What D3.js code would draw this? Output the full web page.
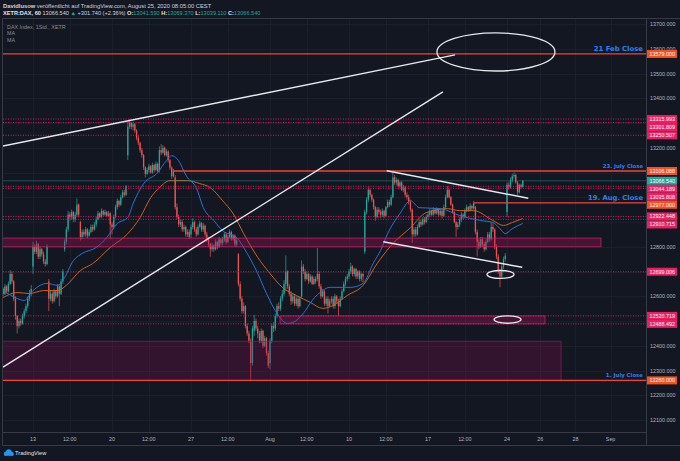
<!DOCTYPE html>
<html><head><meta charset="utf-8">
<script src="https://cdn.jsdelivr.net/npm/d3@7/dist/d3.min.js"></script>
<style>
html,body{margin:0;padding:0;background:#131722;overflow:hidden;}
svg{display:block;}
</style></head><body>
<svg id="c" width="680" height="461"></svg>
<script>
// ---------------- DATA ----------------
// hourly bars, 9 per session; bar index 0 = 13 Jul 09:00, first bar = 9 Jul (index -18)
const firstBar = -18;
const opens = [
12620,12630,12610,12640,12620,12650,12690,12660,12590, // Jul 9
12520,12480,12500,12490,12520,12540,12560,12590,12610, // Jul 10
12720,12800,12780,12810,12760,12790,12770,12740,12730, // Jul 13
12660,12590,12610,12580,12620,12600,12640,12610,12660, // Jul 14
12790,12820,12870,12930,12920,12940,12910,12930,12970, // Jul 15
12900,12840,12860,12850,12870,12845,12860,12880,12870, // Jul 16
12890,12910,12935,12920,12945,12930,12940,12925,12935, // Jul 17
12890,12880,12920,12960,12985,12970,13000,13020,13010, // Jul 20
13170,13285,13300,13285,13295,13270,13240,13220,13190, // Jul 21
13170,13120,13095,13110,13125,13100,13130,13110,13135, // Jul 22
13110,13190,13180,13200,13170,13185,13150,13120,13085, // Jul 23
13080,12960,12920,12890,12900,12870,12880,12850,12860, // Jul 24
12850,12880,12900,12870,12850,12880,12895,12870,12885, // Jul 27
12850,12830,12810,12790,12805,12790,12820,12800,12830, // Jul 28
12815,12830,12850,12820,12840,12860,12830,12845,12810, // Jul 29
12770,12650,12590,12540,12560,12480,12450,12420,12330, // Jul 30
12460,12500,12470,12450,12420,12460,12400,12430,12370, // Jul 31
12330,12420,12480,12470,12520,12560,12550,12590,12610, // Aug 3
12650,12700,12640,12610,12580,12600,12570,12590,12560, // Aug 4
12600,12720,12700,12670,12690,12660,12680,12650,12670, // Aug 5
12670,12690,12640,12600,12620,12570,12590,12560,12580, // Aug 6
12590,12560,12600,12580,12560,12590,12620,12650,12670, // Aug 7
12680,12700,12720,12690,12710,12680,12700,12670,12690, // Aug 10
12780,12940,12990,13030,13010,12990,12960,12920,12950, // Aug 11
12940,12930,12945,12925,12960,12980,12970,13000,13080, // Aug 12
13060,13070,13045,13060,13030,13040,13010,13000,12980, // Aug 13
12950,12850,12870,12850,12880,12900,12890,12910,12900, // Aug 14
12920,12930,12945,12930,12950,12935,12950,12930,12945, // Aug 17
12925,12960,13000,13030,13000,12970,12940,12900,12880, // Aug 18
12890,12910,12930,12920,12945,12960,12950,12965,12955, // Aug 19
12960,12860,12820,12800,12830,12810,12790,12820,12850, // Aug 20
12830,12880,12870,12800,12760,12700,12680,12720,12750, // Aug 21
12940,13050,13040,13070,13085,13090,13060,13020,13050, // Aug 24
13041.59                                               // Aug 25
];
const highs = [
12640,12635,12650,12645,12660,12705,12700,12665,12600,
12525,12510,12510,12530,12550,12570,12600,12625,12645,
12820,12810,12825,12815,12800,12795,12780,12750,12810,
12670,12625,12620,12630,12625,12650,12645,12670,12710,
12830,12880,12945,12940,12950,12945,12940,12995,12975,
12905,12870,12870,12880,12875,12870,12890,12890,12900,
12920,12945,12940,12955,12950,12950,12945,12945,12940,
12900,12930,12970,12995,12990,13010,13030,13030,13050,
13305,13315,13305,13305,13300,13275,13250,13225,13200,
13175,13125,13120,13135,13130,13140,13135,13145,13140,
13205,13215,13210,13205,13195,13190,13155,13125,13115,
13090,12975,12930,12910,12910,12890,12885,12870,12870,
12890,12915,12905,12880,12890,12905,12900,12895,12890,
12860,12840,12815,12815,12810,12830,12825,12840,12835,
12840,12860,12855,12850,12870,12865,12850,12850,12835,
12775,12660,12600,12575,12565,12490,12460,12430,12480,
12525,12510,12480,12460,12470,12465,12440,12435,12380,
12430,12490,12495,12530,12570,12575,12600,12625,12665,
12765,12705,12650,12620,12610,12610,12600,12600,12600,
12745,12730,12710,12700,12695,12690,12685,12680,12680,
12795,12700,12650,12630,12625,12600,12600,12590,12600,
12600,12610,12605,12590,12600,12630,12660,12680,12690,
12710,12735,12725,12715,12715,12705,12705,12695,12695,
12950,13000,13040,13035,13015,12995,12965,12960,12960,
12950,12955,12950,12965,12990,12990,13010,13100,13090,
13080,13075,13065,13065,13050,13045,13020,13010,12990,
12955,12880,12880,12890,12910,12910,12920,12920,12930,
12940,12955,12950,12960,12955,12960,12955,12955,12950,
12970,13010,13045,13035,13005,12975,12945,12905,12900,
12920,12940,12935,12955,12970,12965,12975,12970,12985,
12965,12870,12830,12840,12840,12820,12830,12860,12860,
12900,12895,12875,12810,12770,12710,12730,12760,12775,
13060,13060,13080,13095,13100,13095,13065,13055,13055,
13069.37
];
const lows = [
12605,12600,12605,12610,12615,12645,12650,12580,12505,
12450,12470,12480,12485,12510,12530,12550,12580,12600,
12690,12770,12770,12750,12750,12760,12730,12720,12725,
12540,12580,12570,12575,12590,12595,12560,12605,12650,
12780,12810,12860,12905,12910,12900,12900,12920,12920,
12825,12830,12840,12840,12835,12840,12855,12860,12865,
12880,12905,12915,12915,12925,12925,12920,12920,12830,
12850,12870,12915,12950,12960,12965,12995,13000,13005,
13150,13275,13275,13270,13260,13230,13210,13180,13160,
13110,13080,13090,13100,13095,13095,13100,13105,13100,
13100,13170,13175,13165,13165,13140,13110,13075,13080,
12950,12910,12880,12880,12860,12860,12840,12840,12830,
12835,12870,12860,12840,12845,12875,12860,12860,12840,
12820,12800,12760,12780,12780,12785,12790,12795,12805,
12805,12820,12810,12815,12835,12825,12825,12800,12800,
12640,12580,12530,12530,12470,12440,12410,12262,12320,
12440,12460,12430,12410,12410,12390,12395,12360,12310,
12305,12410,12455,12460,12510,12540,12540,12580,12600,
12620,12630,12600,12565,12570,12560,12560,12550,12555,
12590,12690,12660,12665,12650,12655,12645,12645,12650,
12660,12630,12590,12595,12560,12560,12530,12555,12570,
12550,12550,12570,12520,12555,12585,12615,12640,12660,
12670,12690,12680,12680,12670,12670,12660,12660,12655,
12770,12930,12980,13000,12980,12950,12905,12915,12930,
12915,12920,12915,12920,12955,12960,12965,12995,13050,
13050,13040,13035,13025,13020,13000,12990,12970,12940,
12815,12840,12840,12845,12875,12880,12885,12890,12895,
12910,12920,12925,12925,12930,12930,12925,12925,12915,
12920,12955,12995,12995,12965,12935,12895,12840,12870,
12880,12900,12910,12915,12940,12940,12945,12945,12950,
12850,12760,12790,12795,12800,12780,12785,12815,12820,
12825,12860,12790,12750,12690,12636,12675,12710,12740,
12920,13030,13035,13060,13075,13055,13010,13015,13035,
13039.11
];
const closes = [
12630,12610,12640,12620,12650,12690,12660,12590,12520,
12480,12500,12490,12520,12540,12560,12590,12610,12630,
12800,12780,12810,12760,12790,12770,12740,12730,12800,
12590,12610,12580,12620,12600,12640,12610,12660,12700,
12820,12870,12930,12920,12940,12910,12930,12970,12930,
12840,12860,12850,12870,12845,12860,12880,12870,12890,
12910,12935,12920,12945,12930,12940,12925,12935,12890,
12880,12920,12960,12985,12970,13000,13020,13010,13045,
13285,13300,13285,13295,13270,13240,13220,13190,13170,
13120,13095,13110,13125,13100,13130,13110,13135,13105,
13190,13180,13200,13170,13185,13150,13120,13085,13106,
12960,12920,12890,12900,12870,12880,12850,12860,12840,
12880,12900,12870,12850,12880,12895,12870,12885,12850,
12830,12810,12790,12805,12790,12820,12800,12830,12815,
12830,12850,12820,12840,12860,12830,12845,12810,12825,
12650,12590,12540,12560,12480,12450,12420,12330,12470,
12500,12470,12450,12420,12460,12400,12430,12370,12320,
12420,12480,12470,12520,12560,12550,12590,12610,12650,
12700,12640,12610,12580,12600,12570,12590,12560,12590,
12720,12700,12670,12690,12660,12680,12650,12670,12660,
12690,12640,12600,12620,12570,12590,12560,12580,12590,
12560,12600,12580,12560,12590,12620,12650,12670,12680,
12700,12720,12690,12710,12680,12700,12670,12690,12680,
12940,12990,13030,13010,12990,12960,12920,12950,12940,
12930,12945,12925,12960,12980,12970,13000,13080,13060,
13070,13045,13060,13030,13040,13010,13000,12980,12950,
12850,12870,12850,12880,12900,12890,12910,12900,12920,
12930,12945,12930,12950,12935,12950,12930,12945,12925,
12960,13000,13030,13000,12970,12940,12900,12880,12890,
12910,12930,12920,12945,12960,12950,12965,12955,12977,
12860,12820,12800,12830,12810,12790,12820,12850,12830,
12880,12870,12800,12760,12700,12680,12720,12750,12764,
13050,13040,13070,13085,13090,13060,13020,13050,13041.59,
13066.54
];

// moving averages (bar index, value)
const maFastBars = [-17,-9,-5,0,8,14,17,23,28,36,42,48,54,57,63,71,76,79,82,88,93,97,103,108,116,122,128,133,139,145,148,154,159,165,169,181,188,194,198,202,209,215,220,232,243,255,262,266,269,273,279];
const maFastVals = [12623,12591,12583,12623,12652,12644,12664,12744,12773,12797,12837,12894,12918,12974,13055,13099,13148,13168,13156,13079,13039,12958,12906,12865,12837,12773,12692,12611,12531,12490,12494,12531,12583,12623,12636,12636,12652,12736,12785,12853,12934,12986,12958,12954,12926,12906,12898,12873,12853,12873,12894];
const maSlowBars = [-17,-9,-2,6,14,19,27,34,44,54,61,67,72,78,88,95,101,108,114,120,128,135,142,150,158,165,171,179,188,196,205,215,224,236,243,251,262,268,273,279];
const maSlowVals = [12595,12615,12611,12623,12623,12644,12704,12732,12797,12853,12918,12998,13039,13067,13067,13055,13039,12986,12934,12853,12757,12692,12636,12603,12575,12551,12563,12603,12644,12732,12813,12877,12938,12954,12946,12946,12906,12886,12898,12914];

// price levels
const levelValues = [13579.000,13315.993,13301.809,13250.507,13106.088,13066.540,13044.189,13035.808,12977.000,12922.448,12910.715,12699.006,12520.719,12488.492,12260.000];
const levelKinds  = ["close","zone","zone","zone","close","last","zone","zone","close","zone","zone","zone","zone","zone","close"];
const closeLineStart = [null,null,null,null,80,null,null,null,251,null,null,null,null,null,null];
const closeNames = ["21 Feb Close","23. July Close","19. Aug. Close","1. July Close"];
const closeNameValues = [13579,13106.088,12977,12260];
const closeNameSizes = [6.9,5.3,6.8,5.4];

// rectangles (bar index from/to, price low/high)
const zoneFrom = [-18, 140.7, -18];
const zoneTo   = [323.5, 291.6, 300.8];
const zoneLow  = [12800, 12488.492, 12260];
const zoneHigh = [12835, 12520.719, 12418];
const zoneKind = ["bright","bright","dark"];

// trend lines [bar1, price1, bar2, price2]
const trendLines = [
  [-17.09, 13207, 240.4, 13575],
  [-17.09, 12314, 233.5, 13426],
  [201.5, 13107, 282.1, 12996],
  [199.5, 12820, 278.7, 12717]
];
// ellipses [bar1, bar2, priceLow, priceHigh]
const ellipses = [
  [230.1, 297.3, 13510, 13664],
  [258.6, 274.0, 12672, 12704],
  [262.6, 278.0, 12491, 12521]
];

// axes
const timeTickBars = [0,21,45,66,90,111,135,156,180,201,225,246,270,289,309,329];
const timeTickLabels = ["13","12:00","20","12:00","27","12:00","Aug","12:00","10","12:00","17","12:00","24","26","28","Sep"];
const priceTicks = d3.range(12100, 13701, 100);

// ---------------- DRAW ----------------
const svg = d3.select("#c");
const PL=3, PR=646, PT=19, PB=432, AB=445;
const x = d3.scaleLinear().domain([-17.09, 349.17]).range([PL, PR]);
const y = d3.scaleLinear().domain([12100, 13700]).range([420, 24]);
const FONT = "'Liberation Sans', Arial, sans-serif";
const BOLDF = "'DejaVu Sans', Verdana, sans-serif";

svg.append("rect").attr("width",680).attr("height",461).attr("fill","#131722");

const defs = svg.append("defs");
defs.append("clipPath").attr("id","pane").append("rect")
  .attr("x",PL).attr("y",PT).attr("width",PR-PL).attr("height",PB-PT);

// grid
const grid = svg.append("g").attr("stroke","#1b1f2b").attr("stroke-width",1);
timeTickBars.forEach(b=>{
  const xx = Math.round(x(b))+0.5;
  grid.append("line").attr("x1",xx).attr("x2",xx).attr("y1",PT).attr("y2",PB);
});
priceTicks.forEach(p=>{
  const yy = Math.round(y(p))+0.5;
  grid.append("line").attr("x1",PL).attr("x2",PR).attr("y1",yy).attr("y2",yy);
});

const pane = svg.append("g").attr("clip-path","url(#pane)");

// candles
const bars = closes.map((c,k)=>({i:k+firstBar,o:opens[k],h:highs[k],l:lows[k],c:c}));
const cg = pane.append("g");
bars.forEach(d=>{
  const col = d.c>=d.o ? "#26a69a" : "#ef5350";
  const cx = x(d.i);
  cg.append("line").attr("x1",cx).attr("x2",cx).attr("y1",y(d.h)).attr("y2",y(d.l))
    .attr("stroke",col).attr("stroke-width",0.7);
  const yt = y(Math.max(d.o,d.c)), yb = y(Math.min(d.o,d.c));
  cg.append("rect").attr("x",cx-0.65).attr("width",1.3)
    .attr("y",yt).attr("height",Math.max(0.8,yb-yt)).attr("fill",col);
});

// moving averages
const line = d3.line().x(d=>x(d[0])).y(d=>y(d[1])).curve(d3.curveMonotoneX);
pane.append("path").attr("d",line(d3.zip(maSlowBars,maSlowVals)))
  .attr("fill","none").attr("stroke","#c8641e").attr("stroke-width",1);
pane.append("path").attr("d",line(d3.zip(maFastBars,maFastVals)))
  .attr("fill","none").attr("stroke","#2a72d2").attr("stroke-width",1);

// zones
zoneFrom.forEach((f,k)=>{
  const bright = zoneKind[k]==="bright";
  pane.append("rect")
    .attr("x",x(f)).attr("width",x(zoneTo[k])-x(f))
    .attr("y",y(zoneHigh[k])).attr("height",y(zoneLow[k])-y(zoneHigh[k]))
    .attr("fill", bright ? "rgba(170,20,90,0.33)" : "rgba(136,14,79,0.28)")
    .attr("stroke", bright ? "rgba(214,30,110,0.75)" : "rgba(150,25,90,0.7)")
    .attr("stroke-width",1);
});

// level lines
levelValues.forEach((v,k)=>{
  const yy = y(v);
  const kind = levelKinds[k];
  if(kind==="zone"){
    pane.append("line").attr("x1",PL).attr("x2",PR).attr("y1",yy).attr("y2",yy)
      .attr("stroke","#d81b60").attr("stroke-width",1).attr("stroke-dasharray","1,1.5");
  } else if(kind==="last"){
    pane.append("line").attr("x1",PL).attr("x2",PR).attr("y1",yy).attr("y2",yy)
      .attr("stroke","#26a69a").attr("stroke-opacity",0.4).attr("stroke-width",1);
  } else {
    const s = closeLineStart[k]==null ? PL : x(closeLineStart[k]);
    pane.append("line").attr("x1",s).attr("x2",PR).attr("y1",yy).attr("y2",yy)
      .attr("stroke","#f44336").attr("stroke-width",1.3);
  }
});

// trend lines
trendLines.forEach(t=>{
  pane.append("line").attr("x1",x(t[0])).attr("y1",y(t[1])).attr("x2",x(t[2])).attr("y2",y(t[3]))
    .attr("stroke","#e6e8ee").attr("stroke-width",1.4);
});
ellipses.forEach(e=>{
  pane.append("ellipse")
    .attr("cx",(x(e[0])+x(e[1]))/2).attr("cy",(y(e[2])+y(e[3]))/2)
    .attr("rx",(x(e[1])-x(e[0]))/2).attr("ry",(y(e[2])-y(e[3]))/2)
    .attr("fill","none").attr("stroke","#e6e8ee").attr("stroke-width",1.3);
});

// close names
closeNames.forEach((n,k)=>{
  svg.append("text").attr("x",643).attr("y",y(closeNameValues[k])-3)
    .attr("text-anchor","end").attr("font-family",BOLDF).attr("font-weight","bold")
    .attr("font-size",closeNameSizes[k]).attr("fill","#2f80ed").text(n);
});

// legend
const legend = ["DAX Index, 1Std., XETR","MA","MA"];
legend.forEach((t,k)=>{
  svg.append("text").attr("x",7).attr("y",28.8+k*6.6).attr("font-family",FONT)
    .attr("font-size",5.4).attr("fill","#8a8e99").text(t);
});

// frame
const fr = svg.append("g").attr("stroke","#363a45").attr("stroke-width",1).attr("fill","none");
fr.append("line").attr("x1",PL-0.5).attr("x2",680).attr("y1",PT-0.5).attr("y2",PT-0.5);
fr.append("line").attr("x1",PL-0.5).attr("x2",PL-0.5).attr("y1",PT-0.5).attr("y2",AB+0.5);
fr.append("line").attr("x1",PL-0.5).attr("x2",680).attr("y1",AB+0.5).attr("y2",AB+0.5);
fr.append("line").attr("x1",PL-0.5).attr("x2",PR+0.5).attr("y1",PB+0.5).attr("y2",PB+0.5);
fr.append("line").attr("x1",PR+0.5).attr("x2",PR+0.5).attr("y1",PT-0.5).attr("y2",AB+0.5);

// time axis labels
timeTickBars.forEach((b,k)=>{
  svg.append("text").attr("x",x(b)).attr("y",441).attr("text-anchor","middle")
    .attr("font-family",FONT).attr("font-size",5.4).attr("fill","#b2b5be").text(timeTickLabels[k]);
});

// price label boxes with stacking
const order = d3.range(levelValues.length).sort((a,b)=>levelValues[b]-levelValues[a]);
const boxY = [];
let prev = -1e9;
order.forEach(k=>{
  const yy = Math.max(y(levelValues[k]), prev+8);
  boxY[k]=yy; prev=yy;
});
// price ticks (hidden where a label box sits)
priceTicks.forEach(p=>{
  const yy = y(p);
  if(boxY.some(b=>Math.abs(b-yy)<5)) return;
  svg.append("text").attr("x",650).attr("y",yy+2).attr("font-family",FONT)
    .attr("font-size",5.4).attr("fill","#b2b5be").text(d3.format(".3f")(p));
});
const boxColor = {close:"#f4511e", zone:"#e91e63", last:"#26a69a"};
levelValues.forEach((v,k)=>{
  const yy = boxY[k];
  svg.append("rect").attr("x",PR+1).attr("y",yy-4).attr("width",30).attr("height",8)
    .attr("fill",boxColor[levelKinds[k]]);
  svg.append("text").attr("x",649.5).attr("y",yy+2).attr("font-family",FONT)
    .attr("font-size",5.4).attr("fill","#ffffff").text(d3.format(".3f")(v));
});

// header
const h1 = svg.append("text").attr("x",3).attr("y",8).attr("font-family",FONT)
  .attr("font-size",5.8).attr("fill","#d1d4dc");
h1.append("tspan").attr("font-weight","bold").text("Davidlusow");
h1.append("tspan").text(" veröffentlicht auf TradingView.com, August 25, 2020 08:05:00 CEST");

const hdr = [
  ["XETR:DAX, 60 ","#e0e3eb","bold"],["13066.540 ","#d1d4dc","normal"],["▲ ","#26a69a","normal"],
  ["+301.740 (+2.36%) ","#d1d4dc","normal"],["O:","#e0e3eb","bold"],["13041.590 ","#26a69a","normal"],
  ["H:","#e0e3eb","bold"],["13069.370 ","#26a69a","normal"],["L:","#e0e3eb","bold"],
  ["13039.110 ","#26a69a","normal"],["C:","#e0e3eb","bold"],["13066.540","#26a69a","normal"]
];
const h2 = svg.append("text").attr("x",3).attr("y",15.3).attr("font-family",FONT)
  .attr("font-size",5.6).attr("xml:space","preserve");
hdr.forEach(s=>h2.append("tspan").attr("fill",s[1]).attr("font-weight",s[2]).text(s[0]));

// TradingView logo
const lg = svg.append("g").attr("fill","#2196f3");
lg.append("circle").attr("cx",6).attr("cy",453.6).attr("r",2.2);
lg.append("circle").attr("cx",8.8).attr("cy",452).attr("r",2.8);
lg.append("circle").attr("cx",11.6).attr("cy",453.8).attr("r",2);
lg.append("rect").attr("x",4).attr("y",453.6).attr("width",9.6).attr("height",2.2).attr("rx",1);
svg.append("text").attr("x",15).attr("y",455.3).attr("font-family",FONT).attr("font-size",5.7)
  .attr("fill","#e0e3eb").text("TradingView");
</script>
</body></html>
